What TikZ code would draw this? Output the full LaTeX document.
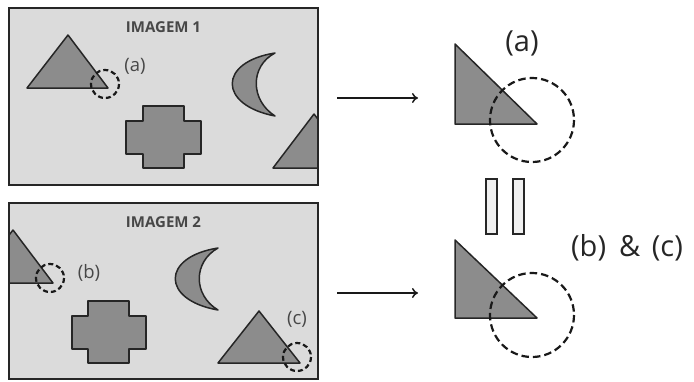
\documentclass[tikz,border=0pt]{standalone}
\usepackage{fontspec}
\setmainfont{Open Sans}
\usetikzlibrary{arrows.meta}
\begin{document}
\begin{tikzpicture}[x=1pt,y=-1pt,
  panel/.style={draw=black!85,line width=2pt,fill=black!14},
  fig/.style={draw=black!85,line width=1.5pt,fill=black!45,line join=round},
  dcirc/.style={draw=black!90,line width=2.2pt,dash pattern=on 5pt off 3pt},
  bigdcirc/.style={draw=black!90,line width=2.2pt,dash pattern=on 7.5pt off 4pt},
  arr/.style={draw=black!90,line width=1.5pt,-{To[length=6pt,width=10pt,line width=1.5pt]}},
  eqbar/.style={draw=black!85,line width=1.3pt,fill=black!6},
  title/.style={font=\bfseries\fontsize{15}{17}\selectfont,text=black!72,inner sep=0pt},
  small/.style={font=\fontsize{18.5}{21}\selectfont,text=black!72,inner sep=0pt},
  big/.style={font=\fontsize{29}{33}\selectfont,text=black!85,inner sep=0pt}]
\useasboundingbox (0,0) rectangle (694,381);
% ---------- panel 1 ----------
\path[panel] (9,8) rectangle (318,185);
\node[title] (t1) at (163.5,27) {IMAGEM 1};
\begin{scope}
\clip (9,8) rectangle (318,185);
\path[fig] (27,88) -- (68,35) -- (108,88) -- cycle;
\path[fig] (275,53) .. controls (218,62) and (218,105) .. (275,116) .. controls (250,100) and (250,66) .. (275,53) -- cycle;
\path[fig] (143,106) -- (184,106) -- (184,121) -- (201,121) -- (201,154) -- (184,154) -- (184,168) -- (143,168) -- (143,154) -- (126,154) -- (126,121) -- (143,121) -- cycle;
\path[fig] (273,168) -- (314,114) -- (355,168) -- cycle;
\end{scope}
\draw[panel,fill=none] (9,8) rectangle (318,185);
\draw[dcirc] (105,84) circle[radius=14];
\node[small] (la) at (135,66) {(a)};
% ---------- panel 2 ----------
\path[panel] (9,203) rectangle (318,379);
\node[title] (t2) at (163.5,222) {IMAGEM 2};
\begin{scope}
\clip (9,203) rectangle (318,379);
\path[fig] (-28,283) -- (13,230) -- (53,283) -- cycle;
\path[fig] (218,248) .. controls (161,257) and (161,300) .. (218,310) .. controls (193,295) and (193,262) .. (218,248) -- cycle;
\path[fig] (88,301) -- (129,301) -- (129,316) -- (146,316) -- (146,349) -- (129,349) -- (129,363) -- (88,363) -- (88,349) -- (72,349) -- (72,316) -- (88,316) -- cycle;
\path[fig] (218,363) -- (259,311) -- (300,363) -- cycle;
\end{scope}
\draw[panel,fill=none] (9,203) rectangle (318,379);
\draw[dcirc] (50,278) circle[radius=14];
\draw[dcirc] (297,357) circle[radius=14];
\node[small] (lb) at (89,273) {(b)};
\node[small] (lc) at (297,319) {(c)};
% ---------- right side ----------
\coordinate (a1s) at (337,98);
\coordinate (a1e) at (418,98);
\coordinate (a2s) at (337,293);
\coordinate (a2e) at (418,293);
\draw[arr] (a1s) -- (a1e);
\draw[arr] (a2s) -- (a2e);
\path[fig] (455,44) -- (455,124) -- (537,124) -- cycle;
\draw[bigdcirc] (532,120) circle[radius=42];
\node[big] (ra) at (522,43) {(a)};
\path[eqbar] (486,179) rectangle (497,234);
\path[eqbar] (513,179) rectangle (524,234);
\path[fig] (455,240) -- (455,318) -- (537,318) -- cycle;
\draw[bigdcirc] (532,315) circle[radius=42];
\node[big] (rbc) at (627,248) {(b)\hspace{0.45em}\&\hspace{0.4em}(c)};
\end{tikzpicture}
\end{document}
